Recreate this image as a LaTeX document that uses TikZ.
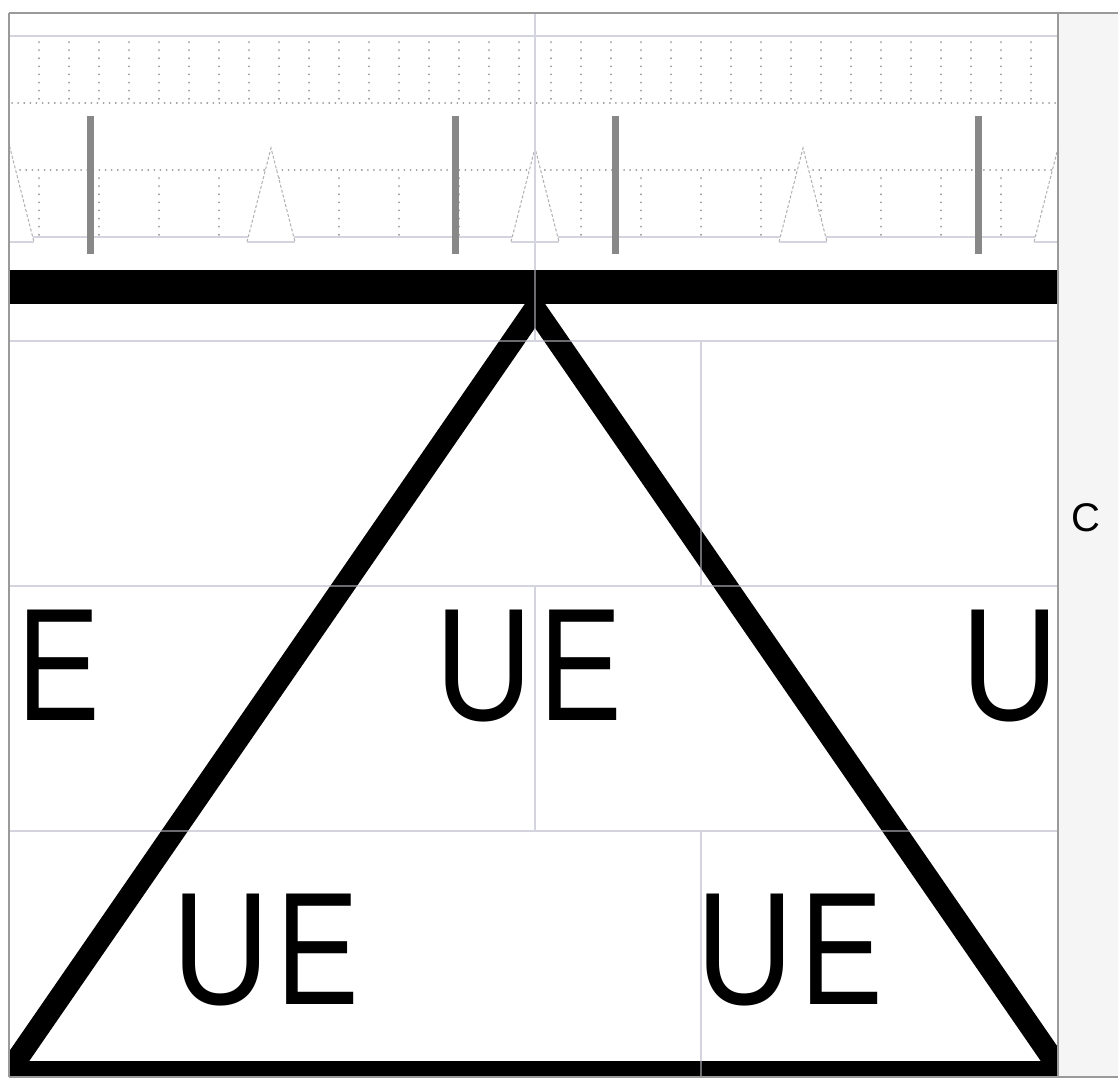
\documentclass[tikz,border=0pt]{standalone}
\usepackage{fontspec}
\setmainfont{Liberation Sans}
\newfontfamily\lsans{Liberation Sans}
\usepackage{graphicx}
\definecolor{gridc}{HTML}{D4D4DE}
\definecolor{dotc}{HTML}{9C9C9C}
\definecolor{barc}{HTML}{888888}
\definecolor{tric}{HTML}{B0B0B0}
\definecolor{framec}{HTML}{9A9A9A}
\definecolor{panelc}{HTML}{F5F5F5}
\newcommand{\lU}{\scalebox{0.84}[1]{U}}
\newcommand{\lE}{\scalebox{0.77}[1]{E}}
\tikzset{
  gridline/.style={draw=gridc, line width=1.6pt},
  gridover/.style={draw=gridc, line width=1.6pt, draw opacity=0.5},
  dotcol/.style={draw=dotc, line width=1.9pt, line cap=round, dash pattern=on 0.1pt off 8pt},
  dotrow/.style={draw=dotc, line width=1.9pt, line cap=round, dash pattern=on 0.1pt off 6pt},
  graybar/.style={draw=barc, line width=7pt},
  tridash/.style={draw=tric, line width=1pt, dash pattern=on 3pt off 2pt},
  framel/.style={draw=framec, line width=2pt},
  bigtext/.style={anchor=base west, inner sep=0pt, font=\lsans\fontsize{160.6}{160}\selectfont},
  sidetext/.style={inner sep=0pt, font=\lsans\fontsize{40}{40}\selectfont},
}
\begin{document}
\begin{tikzpicture}[x=1pt,y=-1pt]
\useasboundingbox (0,0) rectangle (1118,1080);
\fill[white] (0,0) rectangle (1118,1080);
% side panel
\fill[panelc] (1058,13) rectangle (1118,1077);
\node[sidetext] (tC) at (1086,518) {C};
\begin{scope}
\clip (9,13) rectangle (1058,1077);
% top band
\draw[gridline] (9,36) -- (1058,36);
\foreach \k in {0,...,16} {
  \draw[dotcol] ({535-16-30*\k},42) -- ({535-16-30*\k},99);
  \draw[dotcol] ({535+16+30*\k},42) -- ({535+16+30*\k},99);
}
\draw[dotrow] (12,103) -- (1058,103);
\draw[dotrow] (14,170) -- (1058,170);
\foreach \k in {2,4,...,16} {
  \draw[dotcol] ({535-16-30*\k},178) -- ({535-16-30*\k},235);
}
\foreach \k in {1,3,...,15} {
  \draw[dotcol] ({535+16+30*\k},178) -- ({535+16+30*\k},235);
}
\draw[gridline] (9,237) -- (1058,237);
% small triangles
\foreach \a in {10,271,535,803,1058} {
  \fill[white] ({\a-24},242) -- (\a,148) -- ({\a+24},242) -- cycle;
  \draw[tridash] ({\a-24},242) -- (\a,148) -- ({\a+24},242);
  \draw[gridc, line width=1.3pt] ({\a-24},242) -- ({\a+24},242);
}
% gray bars
\foreach \b in {90,455,615,978} {
  \draw[graybar] (\b,116) -- (\b,254);
}
% grid lines (under)
\draw[gridline] (535,13) -- (535,341);
\draw[gridline] (9,341) -- (1058,341);
\draw[gridline] (701,341) -- (701,586);
\draw[gridline] (9,586) -- (1058,586);
\draw[gridline] (535,586) -- (535,831);
\draw[gridline] (9,831) -- (1058,831);
\draw[gridline] (701,831) -- (701,1077);
% black bar
\fill[black] (9,270) rectangle (1058,304);
% big triangle
\draw[line width=22pt, line join=miter, miter limit=10]
  (535,308.6) -- (8.3,1072) -- (1061.7,1072) -- cycle;
% grid lines (over, faint)
\draw[gridover] (535,13) -- (535,341);
\draw[gridover] (9,341) -- (1058,341);
\draw[gridover] (701,341) -- (701,586);
\draw[gridover] (9,586) -- (1058,586);
\draw[gridover] (535,586) -- (535,831);
\draw[gridover] (9,831) -- (1058,831);
\draw[gridover] (701,831) -- (701,1077);
% labels
\node[bigtext] (tE) at (17.2,720) {\lE};
\node[bigtext] (tUEa) at (435.4,720) {\lU\kern6.5pt\lE};
\node[bigtext] (tU) at (961.1,720) {\lU};
\node[bigtext] (tUEb) at (172.1,1004.5) {\lU\kern6.5pt\lE};
\node[bigtext] (tUEc) at (696.4,1004.5) {\lU\kern6.5pt\lE};
\end{scope}
% frame
\draw[framel] (9,13) -- (1118,13);
\draw[framel] (9,1077) -- (1118,1077);
\draw[framel] (9,13) -- (9,1077);
\draw[framel] (1058,13) -- (1058,1077);
\end{tikzpicture}
\end{document}
